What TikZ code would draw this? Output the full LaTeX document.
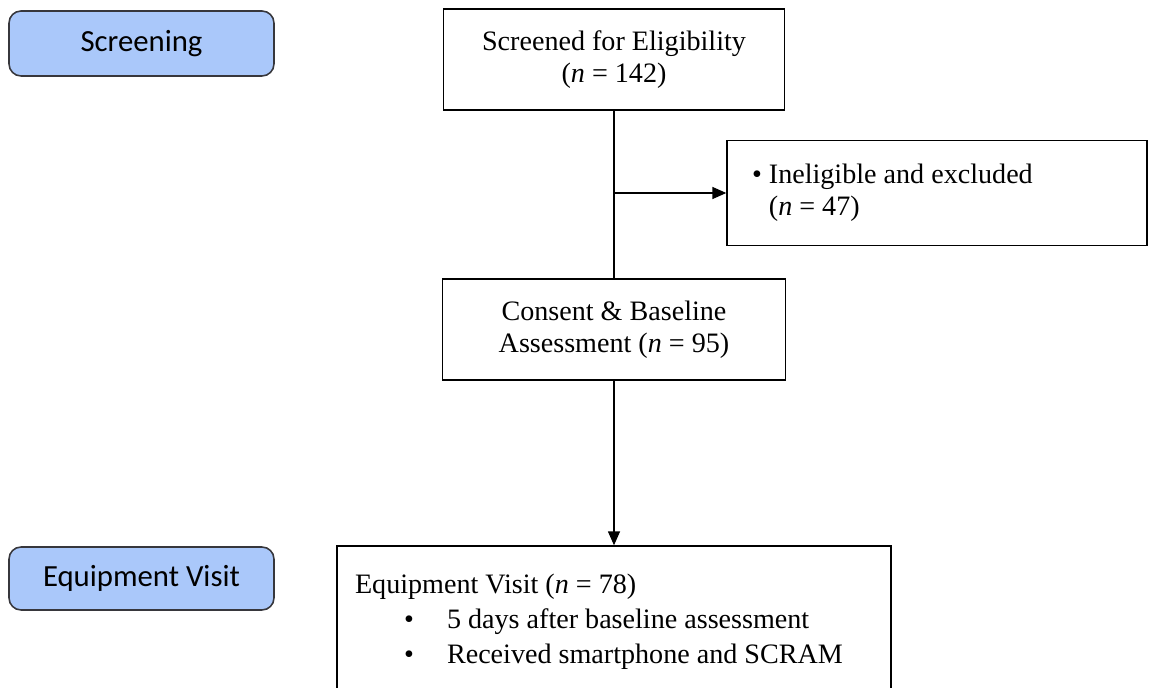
\documentclass[tikz,border=0pt]{standalone}
\usepackage{fontspec}
\setmainfont{Liberation Serif}
\newfontfamily\labelfont{Carlito}
\usetikzlibrary{arrows.meta}
\definecolor{stageblue}{RGB}{170,200,250}
\definecolor{stageedge}{RGB}{55,55,60}
\tikzset{
  stage/.style={draw=stageedge, fill=stageblue, line width=0.9pt, rounded corners=2.4mm,
    minimum width=53mm, inner sep=0pt, font=\labelfont\fontsize{17.5}{20}\selectfont},
  flowbox/.style={draw, line width=0.8pt, inner sep=0pt, font=\fontsize{16}{18.2}\selectfont},
  flow/.style={line width=0.8pt},
  arrow/.style={flow, -{Triangle[length=2.8mm,width=2.4mm]}}
}
\begin{document}
\begin{tikzpicture}[x=0.02cm, y=-0.02cm]
      \useasboundingbox (0,0) rectangle (1149,688);
      \draw
        (141.5,43.5) node[stage, minimum height=13mm] (screening){Screening}
        (141.5,578.5) node[stage, minimum height=12.6mm] (equipvisit){Equipment Visit}
        (614,59.5) node[flowbox, minimum width=68.2mm, minimum height=20.2mm, align=center] (screened){Screened for Eligibility\\(\textit{n} = 142)}
        (614,329.5) node[flowbox, minimum width=68.6mm, minimum height=20.2mm, align=center] (consent){Consent \& Baseline\\Assessment (\textit{n} = 95)}
        (937,193) node[flowbox, minimum width=84mm, minimum height=21mm, text width=74mm, align=flush left] (excluded){\textbullet\ Ineligible and excluded\\\phantom{\textbullet\ }(\textit{n} = 47)}
        (614,622) node[flowbox, minimum width=110.8mm, minimum height=30.4mm, text width=103.6mm, align=flush left, font=\fontsize{16}{19.9}\selectfont] (equipment){Equipment Visit (\textit{n} = 78)\\
          \makebox[18.4mm][l]{\hspace{9.8mm}\textbullet}5 days after baseline assessment\\
          \makebox[18.4mm][l]{\hspace{9.8mm}\textbullet}Received smartphone and SCRAM};
      \coordinate (split) at (614,193);
      \begin{scope}[flow]
        \draw (screened) to (consent);
        \draw[arrow] (split) to (excluded);
        \draw[arrow] (consent) to (equipment);
      \end{scope}
    \end{tikzpicture}
\end{document}
